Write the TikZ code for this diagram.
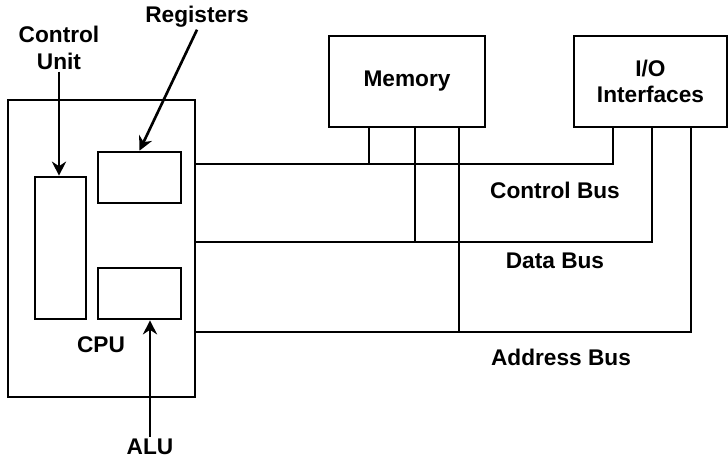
\documentclass[tikz,border=0pt]{standalone}
\usepackage{fontspec}
\setmainfont{Liberation Sans}
\usetikzlibrary{arrows.meta,positioning}

\begin{document}
\begin{tikzpicture}[
    x=0.02cm, y=-0.02cm,
    box/.style={rectangle, draw, line width=1.5pt, inner sep=0pt, align=center, font=\fontsize{12.9}{15}\selectfont\bfseries},
    lbl/.style={align=center, inner sep=1pt, font=\fontsize{12.9}{15}\selectfont\bfseries},
    bus/.style={line width=1.3pt},
    arrow/.style={-{Stealth[length=8pt,width=8pt]}, line width=1.5pt}
]
\useasboundingbox (0,0) rectangle (728,457);

% units
\node[box, minimum width=3.74cm, minimum height=5.94cm] (cpu) at (101.5,248.5) {};
\node[box, minimum width=1.02cm, minimum height=2.84cm] (cu) at (60.5,248) {};
\node[box, minimum width=1.66cm, minimum height=1.02cm] (reg) at (139.5,177.5) {};
\node[box, minimum width=1.66cm, minimum height=1.02cm] (alu) at (139.5,293.5) {};
\node[box, minimum width=3.12cm, minimum height=1.82cm] (mem) at (407,81.5) {Memory};
\node[box, minimum width=3.06cm, minimum height=1.82cm] (io) at (650.5,81.5) {I/O\\Interfaces};

% labels
\node[lbl] (cpulbl) at (101,345) {CPU};
\node[lbl] (culbl) at (59,48) {Control\\Unit};
\node[lbl] (reglbl) at (197,17) {Registers};
\node[lbl] (alulbl) at (150,447) {ALU};
\node[lbl] (cblbl) at (555,190) {Control Bus};
\node[lbl] (dblbl) at (555,261) {Data Bus};
\node[lbl] (ablbl) at (561,357) {Address Bus};

% bus taps
\coordinate (cpuC) at (195,164);
\coordinate (cpuD) at (195,242);
\coordinate (cpuA) at (195,332);
\coordinate (memC) at (369,127);
\coordinate (memD) at (415,127);
\coordinate (memA) at (459,127);
\coordinate (ioC) at (613,127);
\coordinate (ioD) at (652,127);
\coordinate (ioA) at (691,127);

\draw[bus] (cpuC) -| (ioC);
\draw[bus] (cpuD) -| (ioD);
\draw[bus] (cpuA) -| (ioA);
\draw[bus] (memC) -- (memC |- cpuC);
\draw[bus] (memD) -- (memD |- cpuD);
\draw[bus] (memA) -- (memA |- cpuA);

\draw[arrow] (culbl.south) -- (culbl.south |- cu.north);
\draw[arrow] (reglbl.south) -- (reg.north);
\draw[arrow] (alulbl.north) -- (alulbl.north |- alu.south);

\end{tikzpicture}
\end{document}
